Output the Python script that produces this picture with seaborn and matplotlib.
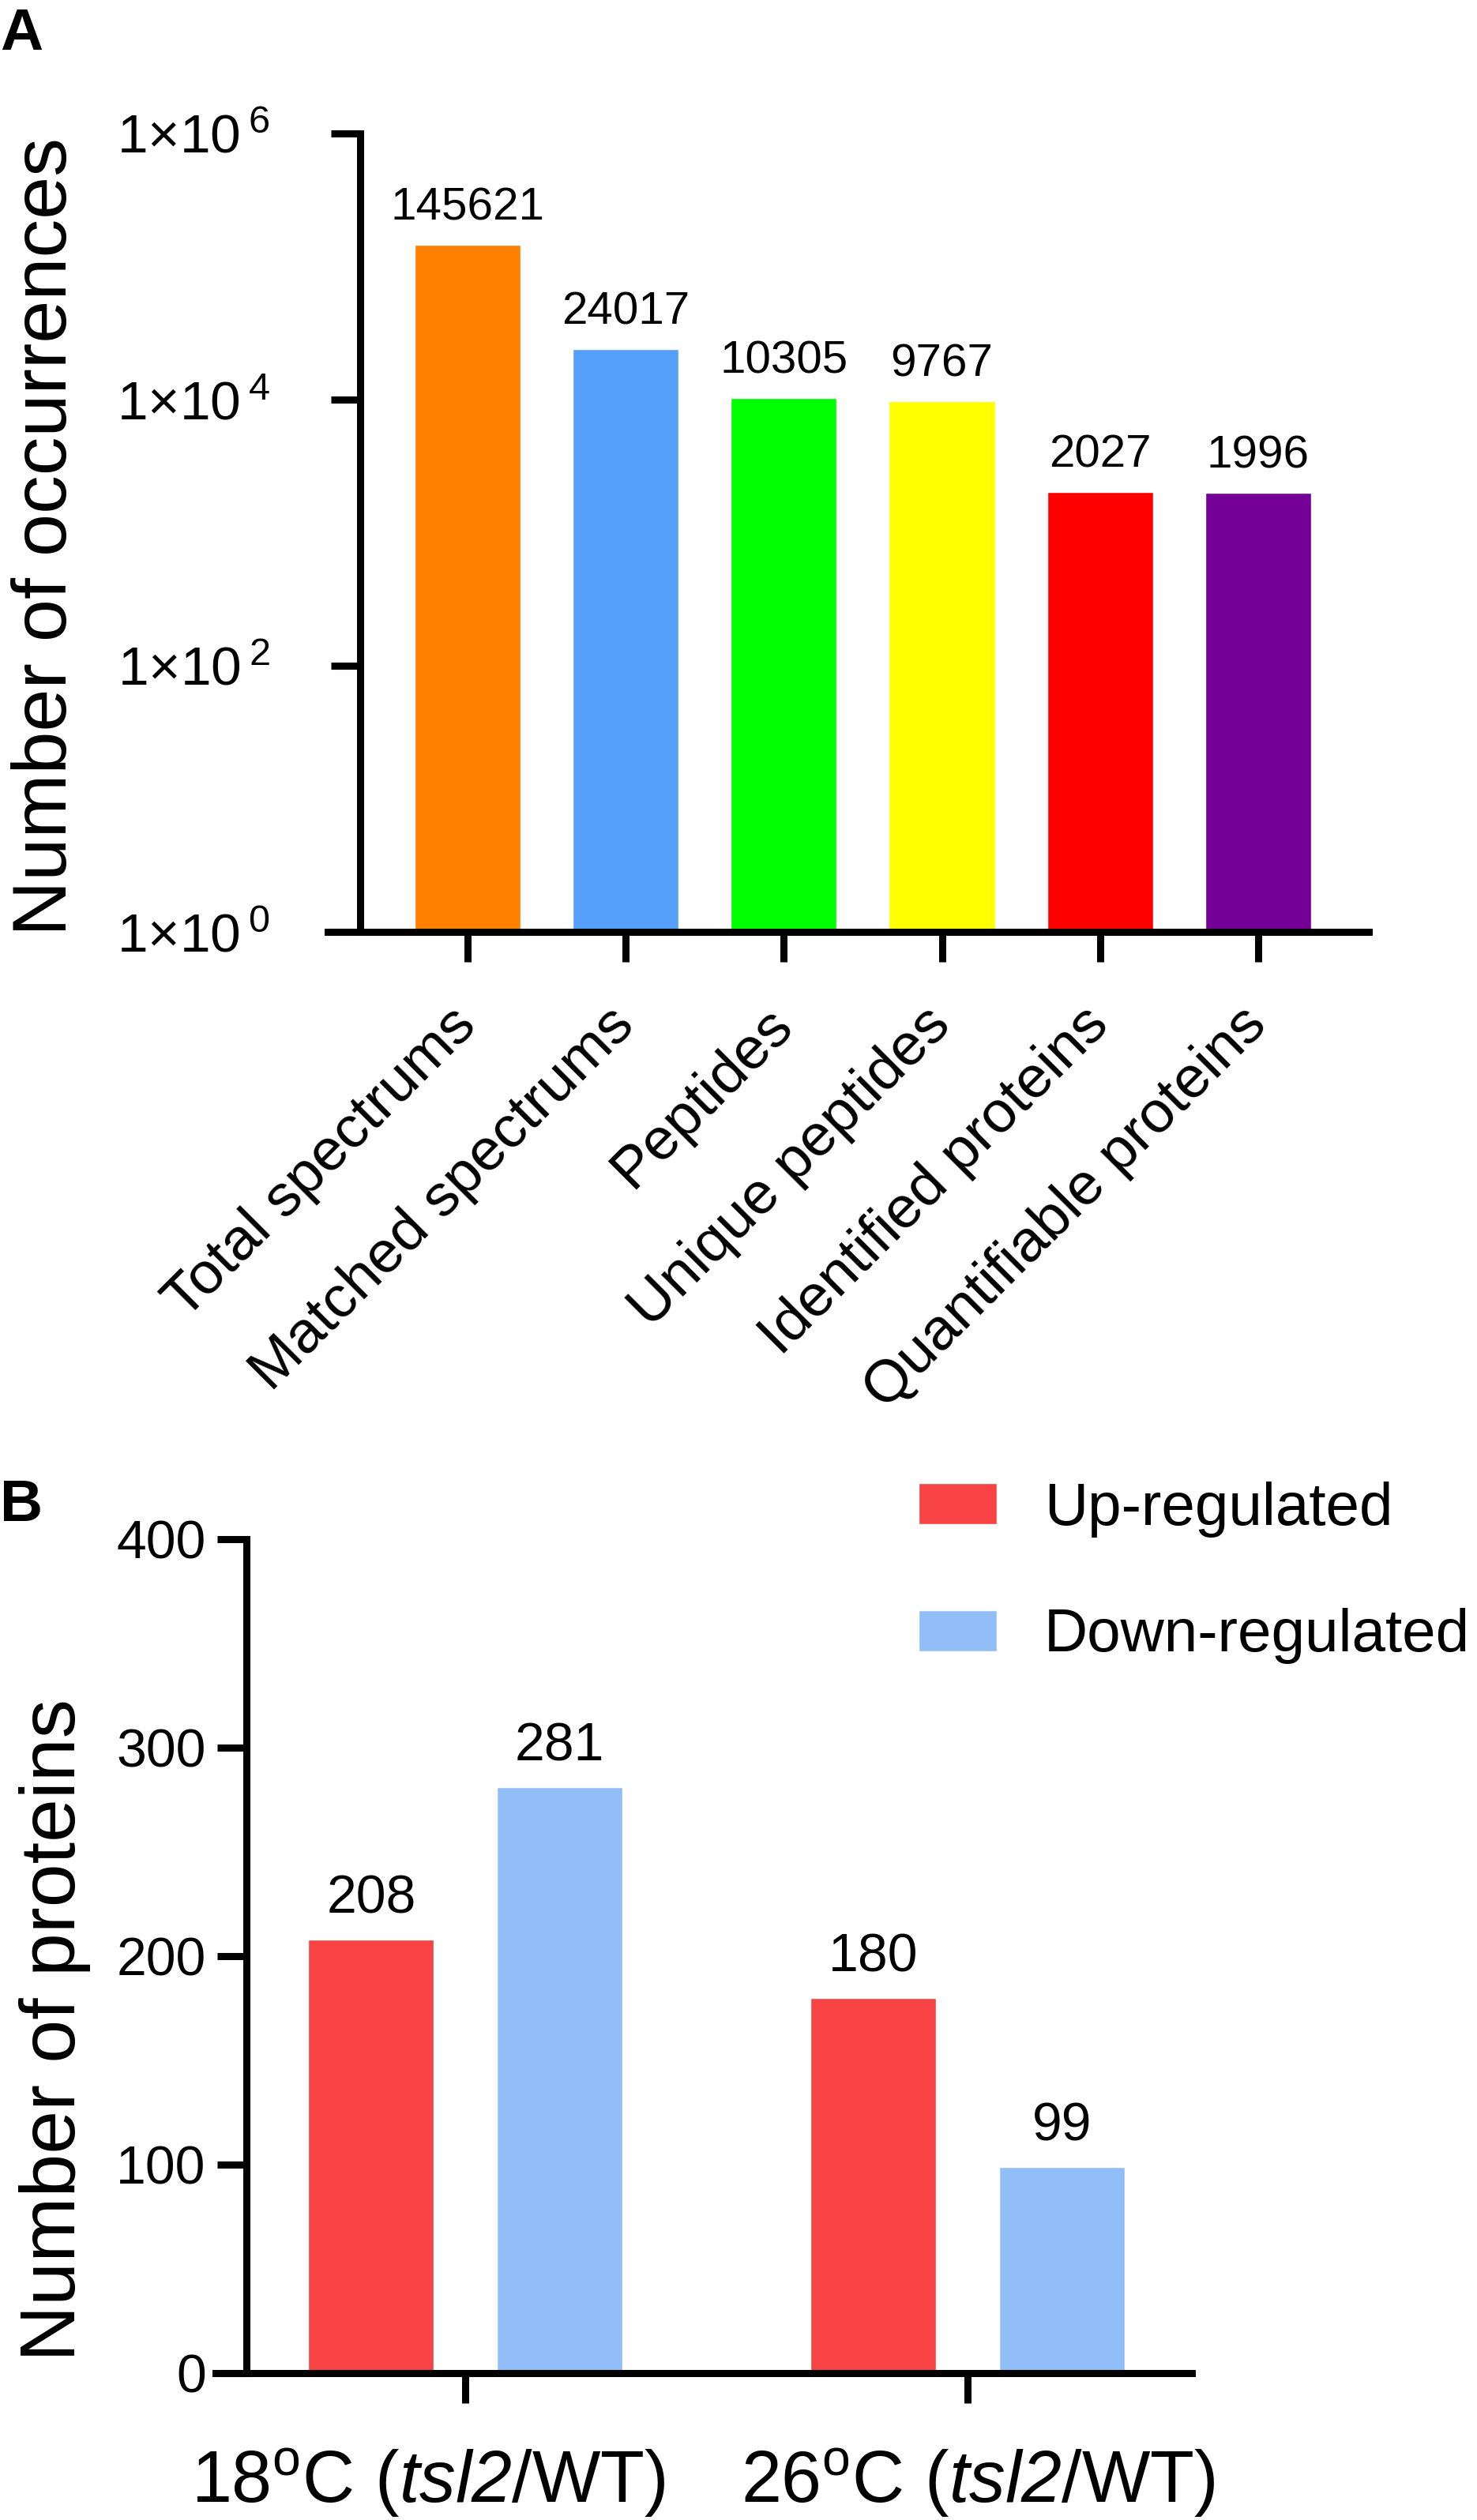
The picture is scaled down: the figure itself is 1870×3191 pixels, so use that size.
import pandas as pd
import matplotlib
matplotlib.use('Agg')
import matplotlib.pyplot as plt
from matplotlib.ticker import NullLocator
from matplotlib.transforms import ScaledTranslation
import seaborn as sns

# panel A data
cats_a = ['Total spectrums', 'Matched spectrums', 'Peptides',
          'Unique peptides', 'Identified proteins', 'Quantifiable proteins']
vals_a = [145621, 24017, 10305, 9767, 2027, 1996]
colors_a = ['#FF8000', '#55A0FA', '#00FF00', '#FFFF00', '#FF0000', '#740098']
yticks_a = [1, 1e2, 1e4, 1e6]
ytick_labels_a = [r'$1{\times}10\,{}^{0}$', r'$1{\times}10\,{}^{2}$',
                  r'$1{\times}10\,{}^{4}$', r'$1{\times}10\,{}^{6}$']

# panel B data
conditions_b = ['18C', '26C']
# \mathsf is mapped to the italic face so that the "2" of tsl2 is slanted too
condition_labels_b = [r'18$^{o}$C ($\mathsf{tsl2}$/WT)', r'26$^{o}$C ($\mathsf{tsl2}$/WT)']
regulation_b = ['Up-regulated', 'Down-regulated']
up_b = [208, 180]
down_b = [281, 99]
colors_b = ['#F74343', '#92BEF7']
yticks_b = [0, 100, 200, 300, 400]

df_b = pd.DataFrame({
    'condition': conditions_b * 2,
    'regulation': [regulation_b[0]] * 2 + [regulation_b[1]] * 2,
    'count': up_b + down_b,
})

sns.set_style('ticks')
plt.rcParams['font.family'] = ['Liberation Sans', 'DejaVu Sans']
plt.rcParams['mathtext.fontset'] = 'custom'
plt.rcParams['mathtext.rm'] = 'Liberation Sans'
plt.rcParams['mathtext.it'] = 'Liberation Sans:italic'
plt.rcParams['mathtext.sf'] = 'Liberation Sans:italic'
plt.rcParams['mathtext.bf'] = 'Liberation Sans:bold'
plt.rcParams['mathtext.default'] = 'regular'
for k in ['axes.edgecolor', 'text.color', 'xtick.color', 'ytick.color', 'axes.labelcolor']:
    plt.rcParams[k] = 'black'

W, H = 1870, 3191
fig = plt.figure(figsize=(W / 100, H / 100), dpi=100)
fig.patch.set_facecolor('white')

LW = 6.5

def style_axes(ax, left_x):
    for s in ['top', 'right']:
        ax.spines[s].set_visible(False)
    ax.spines['left'].set_position(('data', left_x))
    ax.spines['left'].set_linewidth(LW)
    ax.spines['bottom'].set_linewidth(LW)
    ax.tick_params(width=LW, length=27, color='black', labelcolor='black')
    ax.set_facecolor('white')
    ax.set_xlabel('')
    ax.set_ylabel('')

# ---- panel A
ax_a = fig.add_axes([415 / W, 1 - 1180 / H, (1733 - 415) / W, (1180 - 169) / H])
sns.barplot(x=cats_a, y=vals_a, hue=cats_a, palette=colors_a, width=0.67,
            saturation=1, legend=False, ax=ax_a)
ax_a.set_yscale('log')
ax_a.set_ylim(1, 1e6)
ax_a.set_xlim(-0.884, 5.70)
style_axes(ax_a, -0.679)
ax_a.yaxis.set_minor_locator(NullLocator())
ax_a.set_yticks(yticks_a)
ax_a.set_yticklabels(ytick_labels_a, fontsize=50)
ax_a.tick_params(axis='y', pad=55)
ax_a.set_xticks(range(len(cats_a)))
ax_a.set_xticklabels(cats_a, rotation=45, ha='right', va='center',
                     rotation_mode='anchor', fontsize=54)
ax_a.tick_params(axis='x', pad=50)
for c in ax_a.containers:
    ax_a.bar_label(c, fontsize=42, padding=14)
fig.text(84 / W, 1 - 680 / H, 'Number of occurrences', rotation=90,
         rotation_mode='anchor', ha='center', va='baseline', fontsize=70)
fig.text(0 / W, 1 - 9 / H, 'A', fontsize=54, fontweight='bold', ha='left', va='top')

# ---- panel B
ax_b = fig.add_axes([273 / W, 1 - 3005 / H, (1509 - 273) / W, (3005 - 1949) / H])
sns.barplot(data=df_b, x='condition', y='count', hue='regulation',
            palette=colors_b, width=0.75, gap=0.333, saturation=1, ax=ax_b)
ax_b.set_xlim(-0.497, 1.4465)
ax_b.set_ylim(0, 400)
style_axes(ax_b, -0.4355)
ax_b.set_yticks(yticks_b)
ax_b.set_yticklabels([str(t) for t in yticks_b], fontsize=49)
ax_b.tick_params(axis='y', pad=10)
ax_b.set_xticks(range(len(conditions_b)))
ax_b.set_xticklabels(condition_labels_b, fontsize=66)
ax_b.tick_params(axis='x', pad=40)
# the original labels sit a little apart from each other
for lab, dx in zip(ax_b.get_xticklabels(), [-0.47, 0.13]):
    lab.set_transform(lab.get_transform() + ScaledTranslation(dx, 0, fig.dpi_scale_trans))
for c in ax_b.containers:
    ax_b.bar_label(c, fontsize=49, padding=14)

leg = ax_b.get_legend()
handles = leg.legend_handles
labels = [t.get_text() for t in leg.get_texts()]
ax_b.legend(handles, labels, loc='upper left',
            bbox_to_anchor=(1163 / W, 1 - 1876 / H), bbox_transform=fig.transFigure,
            frameon=False, fontsize=55, handlelength=1.3, handleheight=0.67,
            handletextpad=0.78, labelspacing=1.17, borderpad=0, borderaxespad=0)
fig.text(95 / W, 1 - 2570 / H, 'Number of proteins', rotation=90,
         rotation_mode='anchor', ha='center', va='baseline', fontsize=71)
fig.text(0 / W, 1 - 1872 / H, 'B', fontsize=54, fontweight='bold', ha='left', va='top')

fig.savefig('out.png', dpi=100, facecolor='white')
